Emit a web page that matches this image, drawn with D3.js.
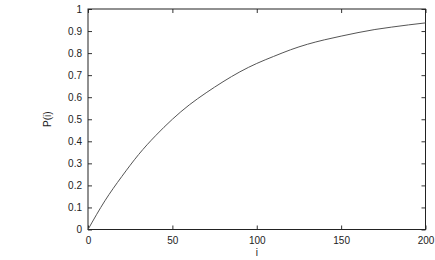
<!DOCTYPE html>
<html>
<head>
<meta charset="utf-8">
<script src="https://cdn.jsdelivr.net/npm/d3@7"></script>
<style>
  body { margin: 0; background: #fff; }
  text { font-family: "Liberation Sans", Arial, sans-serif; fill: #222; }
</style>
</head>
<body>
<script>
// values
const iValues = [0, 10, 20, 30, 40, 50, 60, 70, 80, 90, 100, 110, 120, 130, 140, 150, 160, 170, 180, 190, 200];
const pValues = [0, 0.13, 0.24, 0.34, 0.425, 0.50, 0.565, 0.62, 0.67, 0.715, 0.753, 0.785, 0.815, 0.84, 0.86, 0.877, 0.893, 0.907, 0.918, 0.928, 0.937];
const xTicks = [0, 50, 100, 150, 200];
const yTicks = [0, 0.1, 0.2, 0.3, 0.4, 0.5, 0.6, 0.7, 0.8, 0.9, 1];
const xLabel = "i", yLabel = "P(i)";

function main() {
  const width = 435, height = 260;
  const margin = {left: 88, right: 9.5, top: 9, bottom: 30.5};

  const svg = d3.select("body").append("svg")
    .attr("width", width)
    .attr("height", height);

  const x = d3.scaleLinear().domain([0, 200]).range([margin.left, width - margin.right]);
  const y = d3.scaleLinear().domain([0, 1]).range([height - margin.bottom, margin.top]);

  const tickLen = 4;

  // inward ticks on all four sides
  const axisStyle = g => {
    g.select(".domain").remove();
    g.selectAll(".tick line").attr("stroke", "#333");
    g.selectAll(".tick text").attr("font-size", 10).attr("fill", "#222");
  };

  svg.append("g")
    .attr("transform", `translate(0,${y(0)})`)
    .call(d3.axisBottom(x).tickValues(xTicks).tickSize(-tickLen).tickPadding(7).tickFormat(d3.format("d")))
    .call(axisStyle);

  svg.append("g")
    .attr("transform", `translate(0,${y(1)})`)
    .call(d3.axisTop(x).tickValues(xTicks).tickSize(-tickLen).tickFormat(""))
    .call(axisStyle);

  svg.append("g")
    .attr("transform", `translate(${x(0)},0)`)
    .call(d3.axisLeft(y).tickValues(yTicks).tickSize(-tickLen).tickPadding(6).tickFormat(d => d === 0 || d === 1 ? d : d3.format(".1f")(d)))
    .call(axisStyle);

  svg.append("g")
    .attr("transform", `translate(${x(200)},0)`)
    .call(d3.axisRight(y).tickValues(yTicks).tickSize(-tickLen).tickFormat(""))
    .call(axisStyle);

  // frame
  svg.append("rect")
    .attr("x", x(0))
    .attr("y", y(1))
    .attr("width", x(200) - x(0))
    .attr("height", y(0) - y(1))
    .attr("fill", "none")
    .attr("stroke", "#222")
    .attr("stroke-width", 1);

  const line = d3.line()
    .x((d, k) => x(iValues[k]))
    .y(d => y(d))
    .curve(d3.curveNatural);

  svg.append("path")
    .datum(pValues)
    .attr("d", line)
    .attr("fill", "none")
    .attr("stroke", "#555")
    .attr("stroke-width", 1);

  svg.append("text")
    .attr("x", x(100))
    .attr("y", 256)
    .attr("text-anchor", "middle")
    .attr("font-size", 10)
    .text(xLabel);

  svg.append("text")
    .attr("transform", `translate(50.5,${y(0.5)}) rotate(-90)`)
    .attr("text-anchor", "middle")
    .attr("font-size", 10)
    .text(yLabel);
}

window.addEventListener("load", main);
</script>
</body>
</html>
